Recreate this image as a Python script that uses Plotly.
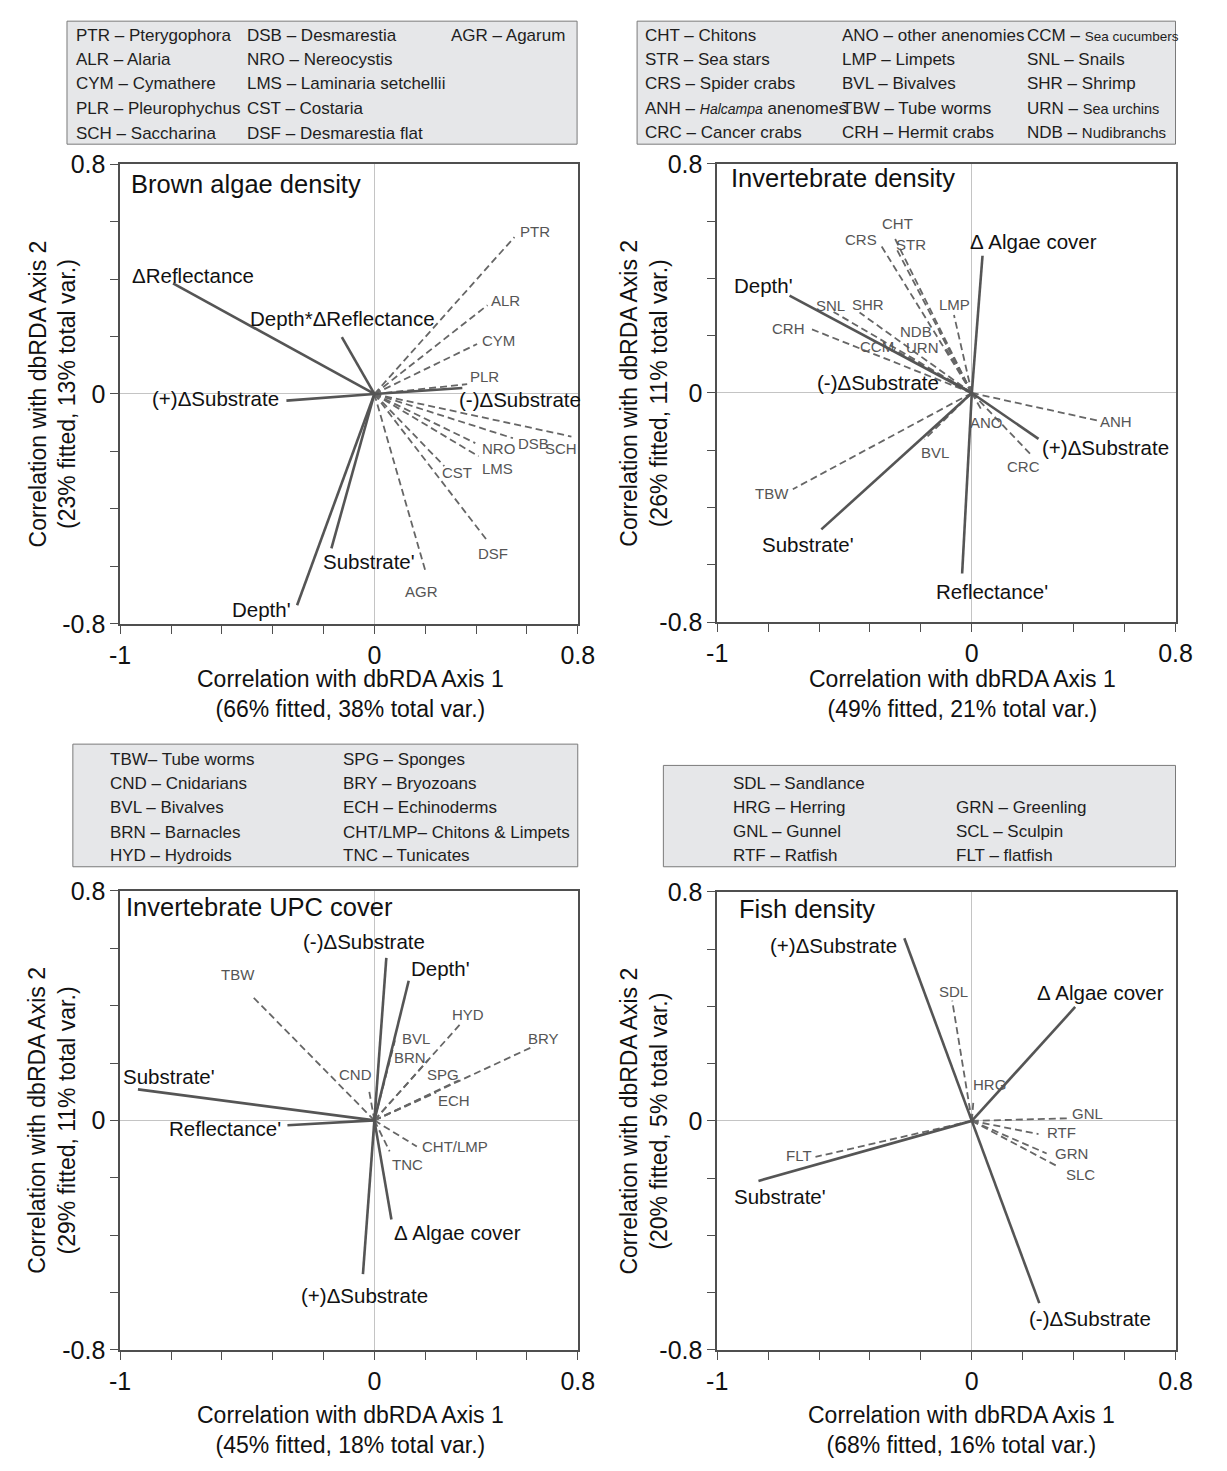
import plotly.graph_objects as go

W, H = 1227, 1471
FONT = "Liberation Sans, Arial, Helvetica, sans-serif"

# ---------------- data ----------------
x_tick_vals = [-1.0, -0.8, -0.6, -0.4, -0.2, 0.0, 0.2, 0.4, 0.6, 0.8]
x_tick_text = ["-1", "", "", "", "", "0", "", "", "", "0.8"]
y_tick_vals = [-0.8, -0.6, -0.4, -0.2, 0.0, 0.2, 0.4, 0.6, 0.8]
y_tick_text = ["-0.8", "", "", "", "0", "", "", "", "0.8"]

panel_titles = ["Brown algae density", "Invertebrate density", "Invertebrate UPC cover", "Fish density"]
x_titles = ["Correlation with dbRDA Axis 1<br>(66% fitted, 38% total var.)",
            "Correlation with dbRDA Axis 1<br>(49% fitted, 21% total var.)",
            "Correlation with dbRDA Axis 1<br>(45% fitted, 18% total var.)",
            "Correlation with dbRDA Axis 1<br>(68% fitted, 16% total var.)"]
y_titles = ["Correlation with dbRDA Axis 2<br>(23% fitted, 13% total var.)",
            "Correlation with dbRDA Axis 2<br>(26% fitted, 11% total var.)",
            "Correlation with dbRDA Axis 2<br>(29% fitted, 11% total var.)",
            "Correlation with dbRDA Axis 2<br>(20% fitted, 5% total var.)"]

# Panel 1: Brown algae density
p1_env_names = ["ΔReflectance", "Depth*ΔReflectance", "(+)ΔSubstrate", "(-)ΔSubstrate", "Substrate'", "Depth'"]
p1_env_x = [-0.792, -0.128, -0.346, 0.346, -0.169, -0.304]
p1_env_y = [0.385, 0.198, -0.023, 0.021, -0.537, -0.735]
p1_sp_names = ["PTR", "ALR", "CYM", "PLR", "SCH", "DSB", "NRO", "LMS", "CST", "DSF", "AGR"]
p1_sp_x = [0.551, 0.445, 0.404, 0.365, 0.775, 0.545, 0.397, 0.410, 0.275, 0.442, 0.201]
p1_sp_y = [0.546, 0.309, 0.174, 0.034, -0.148, -0.154, -0.171, -0.217, -0.251, -0.508, -0.617]

# Panel 2: Invertebrate density
p2_env_names = ["Δ Algae cover", "Depth'", "(-)ΔSubstrate", "(+)ΔSubstrate", "Substrate'", "Reflectance'"]
p2_env_x = [0.042, -0.716, -0.090, 0.262, -0.591, -0.038]
p2_env_y = [0.479, 0.340, 0.045, -0.160, -0.476, -0.630]
p2_sp_names = ["CHT", "STR", "CRS", "LMP", "SNL", "SHR", "CRH", "CCM", "NDB", "URN", "ANO", "ANH", "CRC", "BVL", "TBW"]
p2_sp_x = [-0.307, -0.294, -0.358, -0.070, -0.543, -0.441, -0.639, -0.307, -0.128, -0.102, 0.038, 0.493, 0.230, -0.186, -0.703]
p2_sp_y = [0.548, 0.500, 0.517, 0.272, 0.283, 0.281, 0.226, 0.152, 0.215, 0.157, -0.059, -0.096, -0.213, -0.162, -0.336]

# Panel 3: Invertebrate UPC cover
p3_env_names = ["(-)ΔSubstrate", "Depth'", "Substrate'", "Reflectance'", "Δ Algae cover", "(+)ΔSubstrate"]
p3_env_x = [0.047, 0.135, -0.930, -0.342, 0.067, -0.045]
p3_env_y = [0.567, 0.487, 0.108, -0.017, -0.346, -0.536]
p3_sp_names = ["TBW", "HYD", "BRY", "BVL", "BRN", "SPG", "ECH", "CND", "CHT/LMP", "TNC"]
p3_sp_x = [-0.485, 0.342, 0.628, 0.081, 0.212, 0.333, 0.243, -0.020, 0.167, 0.060]
p3_sp_y = [0.437, 0.340, 0.259, 0.279, 0.211, 0.140, 0.097, 0.100, -0.091, -0.108]

# Panel 4: Fish density
p4_env_names = ["(+)ΔSubstrate", "Δ Algae cover", "Substrate'", "(-)ΔSubstrate"]
p4_env_x = [-0.265, 0.406, -0.838, 0.265]
p4_env_y = [0.638, 0.398, -0.210, -0.637]
p4_sp_names = ["SDL", "HRG", "GNL", "RTF", "GRN", "SLC", "FLT"]
p4_sp_x = [-0.077, 0.007, 0.378, 0.262, 0.294, 0.343, -0.614]
p4_sp_y = [0.420, 0.077, 0.009, -0.046, -0.114, -0.162, -0.126]

# Key (legend box) texts, by column
p1_key = [["PTR – Pterygophora", "ALR – Alaria", "CYM – Cymathere", "PLR – Pleurophychus", "SCH – Saccharina"],
          ["DSB – Desmarestia", "NRO – Nereocystis", "LMS – Laminaria setchellii", "CST – Costaria", "DSF – Desmarestia flat"],
          ["AGR – Agarum"]]
p2_key = [["CHT – Chitons", "STR – Sea stars", "CRS – Spider crabs",
           "ANH – <span style='font-size:14px'><i>Halcampa</i></span> anenomes", "CRC – Cancer crabs"],
          ["ANO – other anenomies", "LMP – Limpets", "BVL – Bivalves", "TBW – Tube worms", "CRH – Hermit crabs"],
          ["CCM – <span style='font-size:13.5px'>Sea cucumbers</span>", "SNL – Snails", "SHR – Shrimp",
           "URN – <span style='font-size:14.5px'>Sea urchins</span>", "NDB – <span style='font-size:15px'>Nudibranchs</span>"]]
p3_key = [["TBW– Tube worms", "CND – Cnidarians", "BVL – Bivalves", "BRN – Barnacles", "HYD – Hydroids"],
          ["SPG – Sponges", "BRY – Bryozoans", "ECH – Echinoderms", "CHT/LMP– Chitons & Limpets", "TNC – Tunicates"]]
p4_key = [["SDL – Sandlance", "HRG – Herring", "GNL – Gunnel", "RTF – Ratfish"],
          ["", "GRN – Greenling", "SCL – Sculpin", "FLT – flatfish"]]

# ---------------- styles / layout positions (pixels) ----------------
ENV_COLOR = "#555555"
SP_COLOR = "#666666"
FRAME = "#4f4f4f"

DOM = {1: ((111.7, 580.0), (153.0, 621.7)),
       2: ((722.7, 1191.7), (152.7, 620.0)),
       3: ((111.7, 580.0), (894.0, 1361.7)),
       4: ((722.7, 1191.7), (895.0, 1361.7))}
TITLE_POS = {1: (120.7, 173.3), 2: (734.3, 166.7), 3: (116.0, 910.0), 4: (742.7, 912.7)}
XT_POS = {1: (347.5, 693.5), 2: (974.0, 693.5), 3: (347.0, 1443.0), 4: (972.5, 1443.0)}
YT_POS = {1: (42.5, 387.3), 2: (647.5, 386.3), 3: (42.5, 1127.8), 4: (647.5, 1128.3)}

# key boxes: (x0, y0, x1, y1), column starts, row centres
KEY_BOX = {1: (57.3, 7.3, 579.3, 132.7), 2: (640.7, 7.3, 1191.7, 132.7),
           3: (63.3, 744.3, 580.0, 869.3), 4: (667.6, 766.0, 1191.7, 869.3)}
KEY_COLS = {1: [64.0, 239.0, 448.3], 2: [646.7, 848.0, 1037.5], 3: [99.3, 338.0], 4: [737.0, 965.0]}
KEY_ROWS = {1: [21.7, 46.5, 71.0, 96.5, 121.5], 2: [22.0, 46.5, 71.0, 96.5, 121.0],
            3: [760.0, 784.5, 809.0, 834.0, 858.0], 4: [784.5, 809.0, 833.5, 858.0]}

# label placement: name -> (anchor, dx px, dy px downward)
OFF1 = {"ΔReflectance": ("center", 19.6, -8.3), "Depth*ΔReflectance": ("center", 1, -18.3),
        "(+)ΔSubstrate": ("right", -5.7, -1.6), "(-)ΔSubstrate": ("left", -5.7, 11.6),
        "Substrate'": ("left", -10.4, 13.4), "Depth'": ("right", -4.4, 4),
        "PTR": ("left", 3.3, -5.6), "ALR": ("left", 1, -5), "CYM": ("left", 3.3, -3.3),
        "PLR": ("left", 0.6, -7.4), "SCH": ("center", -10, 11.7), "DSB": ("left", 3.4, 5),
        "NRO": ("left", 5, 5), "LMS": ("left", 1.7, 11.7), "CST": ("center", 13, 6.7),
        "DSF": ("center", 6.6, 13.3), "AGR": ("center", -4, 20)}
OFF2 = {"Δ Algae cover": ("left", -14.3, -14.3), "Depth'": ("right", 5, -10),
        "(-)ΔSubstrate": ("right", -7.5, 2), "(+)ΔSubstrate": ("left", 1, 9),
        "Substrate'": ("center", -13, 15), "Reflectance'": ("center", 30, 18.3),
        "CHT": ("center", 3.7, -12), "STR": ("left", -2.7, -5), "CRS": ("right", -1.7, -5),
        "LMP": ("center", 0.3, -10.7), "SNL": ("center", -2.7, -6.6), "SHR": ("center", 8.4, -8),
        "CRH": ("right", -1.7, 0), "CCM": ("center", -16.6, -2.7), "NDB": ("right", -5, 0),
        "URN": ("right", -5, -0.7), "ANO": ("center", 5, 12.7), "ANH": ("left", 1, 1.3),
        "CRC": ("center", -7.3, 12.4), "BVL": ("center", 10.5, 13.4), "TBW": ("right", -1.7, 4.3)}
OFF3 = {"(-)ΔSubstrate": ("center", -22.7, -16.7), "Depth'": ("left", 0, -12),
        "Substrate'": ("left", -17.3, -12.7), "Reflectance'": ("right", -4.4, 3.4),
        "Δ Algae cover": ("left", 0.3, 13.4), "(+)ΔSubstrate": ("center", 1.7, 21),
        "TBW": ("center", -13.2, -20.7), "HYD": ("center", 6.3, -8.3), "BRY": ("center", 9.7, -7.7),
        "BVL": ("left", 5, -1.7), "BRN": ("right", 0, -2.4), "SPG": ("right", 2.4, -5.3),
        "ECH": ("left", 0, 8.3), "CND": ("right", 4.2, -16.8), "CHT/LMP": ("left", 3.3, 0),
        "TNC": ("left", 0, 12.7)}
OFF4 = {"(+)ΔSubstrate": ("right", -5, 6.7), "Δ Algae cover": ("center", 25.2, -14),
        "Substrate'": ("center", 21.7, 15.3), "(-)ΔSubstrate": ("left", -12.3, 15.7),
        "SDL": ("center", 0.9, -9.4), "HRG": ("left", -2.3, -14.7), "GNL": ("left", 2.3, -4.4),
        "RTF": ("left", 6.6, -2), "GRN": ("left", 6.7, 0), "SLC": ("left", 4.6, 7.3),
        "FLT": ("right", -1.7, -1.7)}


def px(x):
    return x / W


def py(y):
    return 1 - y / H


fig = go.Figure()
annotations = []
shapes = []

panels = [
    (1, p1_env_names, p1_env_x, p1_env_y, p1_sp_names, p1_sp_x, p1_sp_y, OFF1, p1_key),
    (2, p2_env_names, p2_env_x, p2_env_y, p2_sp_names, p2_sp_x, p2_sp_y, OFF2, p2_key),
    (3, p3_env_names, p3_env_x, p3_env_y, p3_sp_names, p3_sp_x, p3_sp_y, OFF3, p3_key),
    (4, p4_env_names, p4_env_x, p4_env_y, p4_sp_names, p4_sp_x, p4_sp_y, OFF4, p4_key),
]

layout_axes = {}
for k, en, ex, ey, sn, sx, sy, off, key in panels:
    xa = "x" if k == 1 else f"x{k}"
    ya = "y" if k == 1 else f"y{k}"
    (dx0, dx1), (dy0, dy1) = DOM[k]

    # species (dashed) vectors
    for n, x, y in zip(sn, sx, sy):
        fig.add_trace(go.Scatter(x=[0, x], y=[0, y], mode="lines", xaxis=xa, yaxis=ya,
                                 line=dict(color=SP_COLOR, width=1.8, dash="7px,4px"),
                                 showlegend=False, hoverinfo="skip"))
        a, ox, oy = off[n]
        annotations.append(dict(x=x, y=y, xref=xa, yref=ya, text=n, showarrow=False,
                                xanchor=a, yanchor="middle", xshift=ox, yshift=-oy,
                                font=dict(family=FONT, size=15, color="#555555")))
    # environmental (solid) vectors
    for n, x, y in zip(en, ex, ey):
        fig.add_trace(go.Scatter(x=[0, x], y=[0, y], mode="lines", xaxis=xa, yaxis=ya,
                                 line=dict(color=ENV_COLOR, width=2.6),
                                 showlegend=False, hoverinfo="skip"))
        a, ox, oy = off[n]
        annotations.append(dict(x=x, y=y, xref=xa, yref=ya, text=n, showarrow=False,
                                xanchor=a, yanchor="middle", xshift=ox, yshift=-oy,
                                font=dict(family=FONT, size=20.5, color="#111111")))

    axis_common = dict(showgrid=False, zeroline=True, zerolinecolor="#c4c4c4", zerolinewidth=1,
                       showline=True, linecolor=FRAME, linewidth=1.5, mirror=True,
                       ticks="outside", ticklen=8, tickwidth=1.3, tickcolor=FRAME,
                       tickfont=dict(family=FONT, size=25, color="#111111"))
    xname = "xaxis" if k == 1 else f"xaxis{k}"
    yname = "yaxis" if k == 1 else f"yaxis{k}"
    layout_axes[xname] = dict(axis_common, range=[-1, 0.8], domain=[px(dx0), px(dx1)],
                              tickmode="array", tickvals=x_tick_vals, ticktext=x_tick_text,
                              anchor=ya)
    layout_axes[yname] = dict(axis_common, range=[-0.8, 0.8], domain=[py(dy1), py(dy0)],
                              tickmode="array", tickvals=y_tick_vals, ticktext=y_tick_text,
                              anchor=xa)

    # panel title
    tx, ty = TITLE_POS[k]
    annotations.append(dict(x=px(tx), y=py(ty), xref="paper", yref="paper", text=panel_titles[k - 1],
                            showarrow=False, xanchor="left", yanchor="middle",
                            font=dict(family=FONT, size=25.5, color="#111111")))
    # axis titles
    ax_, ay_ = XT_POS[k]
    annotations.append(dict(x=px(ax_), y=py(ay_), xref="paper", yref="paper", text=x_titles[k - 1],
                            showarrow=False, xanchor="center", yanchor="middle",
                            font=dict(family=FONT, size=23, color="#111111")))
    bx_, by_ = YT_POS[k]
    annotations.append(dict(x=px(bx_), y=py(by_), xref="paper", yref="paper", text=y_titles[k - 1],
                            showarrow=False, xanchor="center", yanchor="middle", textangle=-90,
                            font=dict(family=FONT, size=23, color="#111111")))

    # key box
    x0, y0, x1, y1 = KEY_BOX[k]
    shapes.append(dict(type="rect", xref="paper", yref="paper", x0=px(x0), x1=px(x1), y0=py(y1), y1=py(y0),
                       fillcolor="#e6e7e9", line=dict(color="#7a7a7a", width=1), layer="below"))
    for ci, col in enumerate(key):
        for ri, txt in enumerate(col):
            if not txt:
                continue
            annotations.append(dict(x=px(KEY_COLS[k][ci]), y=py(KEY_ROWS[k][ri]), xref="paper", yref="paper",
                                    text=txt, showarrow=False, xanchor="left", yanchor="middle",
                                    font=dict(family=FONT, size=17, color="#1e1e1e")))

fig.update_layout(width=W, height=H, autosize=False, margin=dict(l=0, r=0, t=0, b=0),
                  paper_bgcolor="white", plot_bgcolor="white", showlegend=False,
                  annotations=annotations, shapes=shapes, **layout_axes)

fig.write_html("out.html")
